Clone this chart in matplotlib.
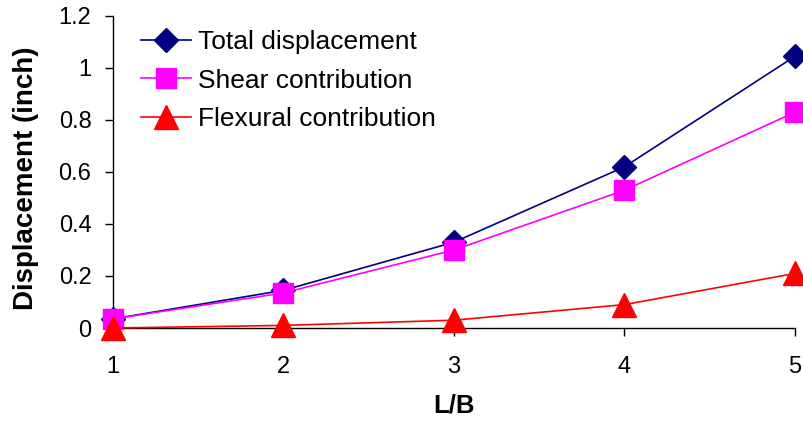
import matplotlib
matplotlib.use("Agg")
import matplotlib.pyplot as plt

# Datos del gráfico
relacion_lb = [1, 2, 3, 4, 5]
desp_total = [0.035, 0.145, 0.33, 0.62, 1.045]
desp_corte = [0.035, 0.135, 0.30, 0.53, 0.83]
desp_flexion = [0.0, 0.01, 0.03, 0.09, 0.21]

y_ticks = [0, 0.2, 0.4, 0.6, 0.8, 1.0, 1.2]
y_labels = ["0", "0.2", "0.4", "0.6", "0.8", "1", "1.2"]

plt.rcParams['font.family'] = ['Liberation Sans', 'DejaVu Sans']

fig = plt.figure(figsize=(8.04, 4.23), dpi=100)
ax = fig.add_axes([113 / 804, 95 / 423, 682 / 804, 312 / 423])

# Series
ax.plot(relacion_lb, desp_total, color='#000080', marker='D', markersize=12,
        linewidth=1.2, label='Total displacement', clip_on=False, zorder=3)
ax.plot(relacion_lb, desp_corte, color='#FF00FF', marker='s', markersize=15,
        linewidth=1.2, label='Shear contribution', clip_on=False, zorder=3)
ax.plot(relacion_lb, desp_flexion, color='#FF0000', marker='^', markersize=17,
        linewidth=1.2, label='Flexural contribution', clip_on=False, zorder=3)

# Ejes
ax.set_xlim(1, 5)
ax.set_ylim(0, 1.2)
ax.set_xticks(relacion_lb)
ax.set_xticklabels([str(v) for v in relacion_lb])
ax.set_yticks(y_ticks)
ax.set_yticklabels(y_labels)
ax.tick_params(axis='both', labelsize=17, direction='out', width=1, color='black')
ax.tick_params(axis='x', length=5.5, pad=15)
ax.tick_params(axis='y', length=5.5, pad=10)

for lado in ['top', 'right']:
    ax.spines[lado].set_visible(False)
for lado in ['left', 'bottom']:
    ax.spines[lado].set_linewidth(1)
    ax.spines[lado].set_color('black')

ax.set_xlabel("L/B", fontsize=18.5, fontweight='bold', labelpad=11)
ax.set_ylabel("Displacement (inch)", fontsize=20, fontweight='bold')
ax.yaxis.set_label_coords(-0.108, 0.481)

# Leyenda
ax.legend(loc='upper left', bbox_to_anchor=(0.026, 0.989), frameon=False,
          fontsize=19, handlelength=1.9, handletextpad=0.25, labelspacing=0.55,
          borderaxespad=0)

fig.savefig("out.png", dpi=100)
